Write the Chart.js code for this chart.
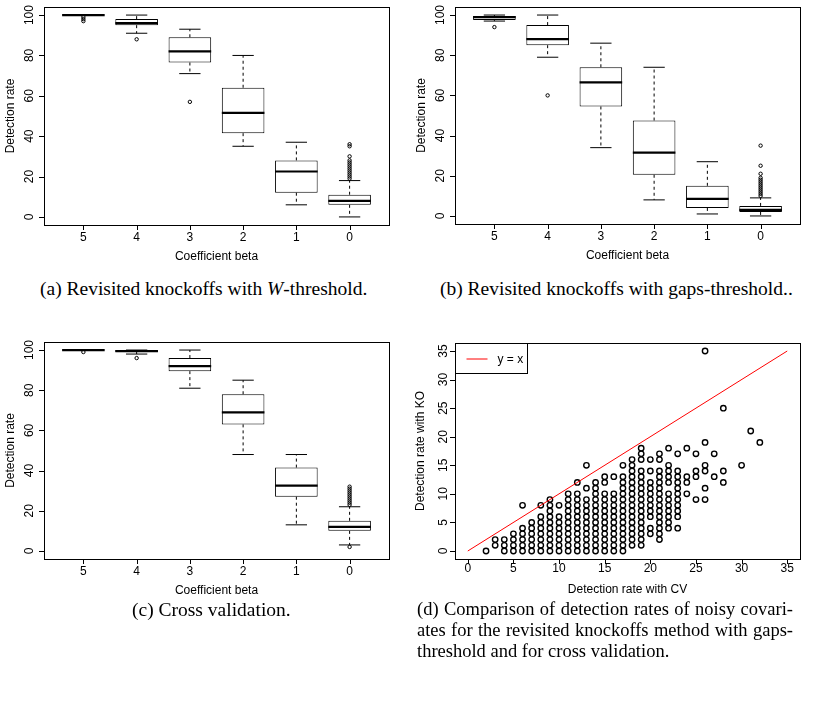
<!DOCTYPE html>
<html>
<head>
<meta charset="utf-8">
<script src="https://cdn.jsdelivr.net/npm/chart.js@4.4.1/dist/chart.umd.min.js"></script>
<style>
  body { margin: 0; background: #fff; width: 838px; height: 703px; position: relative; overflow: hidden; }
  canvas { position: absolute; }
  .cap { position: absolute; font-family: "Liberation Serif", "Times New Roman", serif; font-size: 19.5px; line-height: 21px; color: #000; white-space: nowrap; }
  .just { text-align: justify; text-align-last: justify; }
</style>
</head>
<body>
<canvas id="chartA" width="405" height="270" style="left:0;top:0"></canvas>
<canvas id="chartB" width="433" height="270" style="left:405px;top:0"></canvas>
<canvas id="chartC" width="405" height="270" style="left:0;top:330px"></canvas>
<canvas id="chartD" width="433" height="270" style="left:405px;top:330px"></canvas>

<div class="cap" style="left:40px;top:278px">(a) Revisited knockoffs with <i>W</i>-threshold.</div>
<div class="cap" style="left:440px;top:278px">(b) Revisited knockoffs with gaps-threshold..</div>
<div class="cap" style="left:132px;top:599px">(c) Cross validation.</div>
<div class="cap just" style="left:417px;top:599px;width:376px;font-size:18.5px">(d) Comparison of detection rates of noisy covari-</div>
<div class="cap just" style="left:417px;top:620px;width:376px;font-size:18.5px">ates for the revisited knockoffs method with gaps-</div>
<div class="cap" style="left:417px;top:641px;font-size:18.5px">threshold and for cross validation.</div>

<script>
// boxplot categories
const betaLabels = ['5', '4', '3', '2', '1', '0'];
const betaPos = [1, 2, 3, 4, 5, 6];
const rateTicks = [0, 20, 40, 60, 80, 100];

// (a) W-threshold
const wLow = [100, 91, 71, 35, 6, 0];
const wQ1 = [100, 95, 76.5, 41.5, 12, 6];
const wMed = [100, 96, 82, 51.5, 22.5, 8];
const wQ3 = [100, 98, 89, 64, 28, 11];
const wHigh = [100, 100, 93, 80, 37, 18];
const wOut = [[99, 98, 97], [88], [57], [], [], [19, 20, 21, 22, 23, 24, 25, 26, 27, 28, 30, 35, 36]];

// (b) gaps-threshold
const gLow = [97, 79, 34, 8, 1, 0];
const gQ1 = [97.5, 85, 54.5, 20.5, 4, 2];
const gMed = [99, 88, 66.5, 31.5, 8.5, 3];
const gQ3 = [99.5, 95, 74, 47.5, 15, 5];
const gHigh = [100, 100, 86, 74, 27, 9];
const gOut = [[94], [60], [], [], [], [10, 11, 12, 13, 14, 15, 16, 17, 18, 19, 21, 25, 35]];

// (c) cross validation
const cLow = [100, 98, 81, 48, 13, 3];
const cQ1 = [100, 99, 89.5, 63, 27, 10];
const cMed = [100, 99.5, 92, 69, 32.5, 12];
const cQ3 = [100, 100, 96, 78, 41.5, 15];
const cHigh = [100, 100, 100, 85, 48, 22];
const cOut = [[99], [96], [], [], [], [2, 23, 24, 25, 26, 27, 28, 29, 30, 31, 32]];

// (d) scatter: detection rate with CV (x) -> rates with KO (y)
const cvRates = [2, 3, 4, 5, 6, 7, 8, 9, 10, 11, 12, 13, 14, 15, 16, 17, 18, 19, 20, 21, 22, 23, 24, 25, 26, 27, 28, 30, 31, 32];
const koRates = [
  [0],
  [1, 2],
  [0, 1, 2],
  [0, 1, 2, 3],
  [0, 1, 2, 3, 4, 8],
  [0, 1, 2, 3, 4, 5],
  [0, 1, 2, 3, 4, 5, 6, 8],
  [0, 1, 2, 3, 4, 5, 6, 7, 8, 9],
  [0, 1, 2, 3, 4, 5, 6, 8],
  [0, 1, 2, 3, 4, 5, 6, 7, 8, 9, 10],
  [0, 1, 2, 3, 4, 5, 6, 7, 8, 9, 10, 12],
  [0, 1, 2, 3, 4, 5, 6, 7, 8, 9, 11, 15],
  [0, 1, 2, 3, 4, 5, 6, 7, 8, 9, 10, 11, 12],
  [0, 1, 2, 3, 4, 5, 6, 7, 8, 9, 10, 12, 13],
  [0, 1, 2, 3, 4, 5, 6, 7, 8, 9, 10, 13],
  [0, 1, 2, 3, 4, 5, 6, 7, 8, 9, 10, 11, 12, 13, 15],
  [1, 2, 3, 4, 5, 6, 7, 8, 9, 10, 11, 12, 13, 14, 15, 16],
  [1, 2, 3, 4, 5, 6, 7, 8, 9, 10, 11, 12, 13, 14, 16, 17, 18],
  [3, 4, 6, 7, 8, 9, 10, 11, 12, 14, 16],
  [2, 3, 4, 5, 6, 7, 8, 9, 10, 11, 12, 13, 14, 16, 17],
  [4, 5, 6, 7, 8, 9, 10, 12, 13, 14, 15, 18],
  [4, 6, 7, 8, 9, 10, 11, 12, 13, 14, 17],
  [10, 12, 13, 18],
  [9, 13, 14, 17],
  [9, 11, 14, 15, 19, 35],
  [13, 17],
  [12, 14, 25],
  [15],
  [21],
  [19]
];
const refLine = [0, 35];
const scatterTicks = [0, 5, 10, 15, 20, 25, 30, 35];

const axisFont = '12px "Liberation Sans", Arial, sans-serif';

// R-style frame, outward ticks and rotated y labels
const rAxes = {
  id: 'rAxes',
  afterDraw(chart, args, o) {
    const { ctx, chartArea: a, scales: { x, y } } = chart;
    ctx.save();
    ctx.strokeStyle = '#000';
    ctx.fillStyle = '#000';
    ctx.lineWidth = 1;
    ctx.strokeRect(Math.round(a.left) + 0.5, Math.round(a.top) + 0.5, Math.round(a.right - a.left), Math.round(a.bottom - a.top));

    ctx.beginPath();
    o.xTicks.forEach(v => {
      const px = Math.round(x.getPixelForValue(v)) + 0.5;
      ctx.moveTo(px, a.bottom);
      ctx.lineTo(px, a.bottom + 5);
    });
    o.yTicks.forEach(v => {
      const py = Math.round(y.getPixelForValue(v)) + 0.5;
      ctx.moveTo(a.left, py);
      ctx.lineTo(a.left - 5, py);
    });
    ctx.stroke();

    ctx.font = axisFont;
    ctx.textAlign = 'center';
    ctx.textBaseline = 'middle';
    o.xTicks.forEach((v, i) => ctx.fillText(o.xLabels[i], x.getPixelForValue(v), a.bottom + o.xGap));
    o.yTicks.forEach(v => {
      ctx.save();
      ctx.translate(a.left - o.yGap, y.getPixelForValue(v));
      ctx.rotate(-Math.PI / 2);
      ctx.fillText(String(v), 0, 0);
      ctx.restore();
    });
    ctx.fillText(o.xTitle, (a.left + a.right) / 2, a.bottom + o.xTitleGap);
    ctx.save();
    ctx.translate(a.left - o.yTitleGap, (a.top + a.bottom) / 2);
    ctx.rotate(-Math.PI / 2);
    ctx.fillText(o.yTitle, 0, 0);
    ctx.restore();

    if (o.legend) {
      const lx = Math.round(a.left) + 0.5, ly = Math.round(a.top) + 0.5;
      ctx.strokeRect(lx, ly, 72, 30);
      ctx.strokeStyle = '#ff0000';
      ctx.beginPath();
      ctx.moveTo(lx + 11, ly + 15.5);
      ctx.lineTo(lx + 32, ly + 15.5);
      ctx.stroke();
      ctx.textAlign = 'left';
      ctx.fillText(o.legend, lx + 42, ly + 16);
    }
    ctx.restore();
  }
};

function boxChart(id, low, q1, med, q3, high, outs, pad) {
  const boxes = betaPos.map((p, i) => ({ x: p, y: [q1[i], q3[i]] }));
  const meds = betaPos.map((p, i) => ({ x: p, y: med[i] }));
  const caps = [];
  const whisk = [];
  betaPos.forEach((p, i) => {
    caps.push({ x: p, y: low[i] }, { x: p, y: high[i] });
    whisk.push({ x: p, y: q3[i] }, { x: p, y: high[i] }, { x: p, y: null },
               { x: p, y: q1[i] }, { x: p, y: low[i] }, { x: p, y: null });
  });
  const outPts = [];
  outs.forEach((list, i) => list.forEach(v => outPts.push({ x: betaPos[i], y: v })));

  // half-widths follow the x scale (box 0.8, staple 0.4)
  const unit = c => {
    const sx = c.chart.scales.x;
    return sx ? Math.abs(sx.getPixelForValue(1) - sx.getPixelForValue(0)) : 0;
  };

  return new Chart(document.getElementById(id), {
    type: 'bar',
    data: {
      datasets: [
        { type: 'scatter', data: meds, pointStyle: 'line', pointRadius: c => unit(c) * 0.4,
          pointBorderWidth: 2.2, pointBorderColor: '#000' },
        { type: 'bar', data: boxes, backgroundColor: '#fff', borderColor: '#000', borderWidth: 1,
          borderSkipped: false, barPercentage: 1, categoryPercentage: 0.8 },
        { type: 'scatter', data: caps, pointStyle: 'line', pointRadius: c => unit(c) * 0.2,
          pointBorderWidth: 1, pointBorderColor: '#000' },
        { type: 'line', data: whisk, borderColor: '#000', borderWidth: 1, borderDash: [3, 3],
          pointRadius: 0, spanGaps: false },
        { type: 'scatter', data: outPts, pointStyle: 'circle', pointRadius: 1.7, pointBorderWidth: 1,
          pointBorderColor: '#000', pointBackgroundColor: 'rgba(0,0,0,0)' }
      ]
    },
    options: {
      responsive: false,
      animation: false,
      events: [],
      layout: { padding: pad },
      plugins: {
        legend: { display: false },
        tooltip: { enabled: false },
        rAxes: {
          xTicks: betaPos, xLabels: betaLabels, yTicks: rateTicks,
          xTitle: 'Coefficient beta', yTitle: 'Detection rate',
          xGap: 13, xTitleGap: 32, yGap: 14.5, yTitleGap: 33
        }
      },
      scales: {
        x: { type: 'linear', display: false, min: 0.26, max: 6.74, offset: false },
        y: { type: 'linear', display: false, min: -4, max: 104 }
      }
    },
    plugins: [rAxes]
  });
}

boxChart('chartA', wLow, wQ1, wMed, wQ3, wHigh, wOut, { left: 44, top: 7, right: 16, bottom: 45 });
boxChart('chartB', gLow, gQ1, gMed, gQ3, gHigh, gOut, { left: 50, top: 7, right: 38, bottom: 46 });
boxChart('chartC', cLow, cQ1, cMed, cQ3, cHigh, cOut, { left: 44, top: 12, right: 16, bottom: 41 });

const koPoints = [];
cvRates.forEach((cv, i) => koRates[i].forEach(ko => koPoints.push({ x: cv, y: ko })));

new Chart(document.getElementById('chartD'), {
  type: 'scatter',
  data: {
    datasets: [
      { type: 'line', data: refLine.map(v => ({ x: v, y: v })), borderColor: '#ff0000',
        borderWidth: 1, pointRadius: 0 },
      { data: koPoints, pointStyle: 'circle', pointRadius: 2.7, pointBorderWidth: 1.4,
        pointBorderColor: '#000', pointBackgroundColor: 'rgba(0,0,0,0)' }
    ]
  },
  options: {
    responsive: false,
    animation: false,
    events: [],
    layout: { padding: { left: 50, top: 13, right: 38, bottom: 41 } },
    plugins: {
      legend: { display: false },
      tooltip: { enabled: false },
      rAxes: {
        xTicks: scatterTicks, xLabels: scatterTicks.map(String), yTicks: scatterTicks,
        xTitle: 'Detection rate with CV', yTitle: 'Detection rate with KO',
        xGap: 10, xTitleGap: 31, yGap: 11, yTitleGap: 34, legend: 'y = x'
      }
    },
    scales: {
      x: { type: 'linear', display: false, min: -1.4, max: 36.4 },
      y: { type: 'linear', display: false, min: -1.4, max: 36.4 }
    }
  },
  plugins: [rAxes]
});
</script>
</body>
</html>
